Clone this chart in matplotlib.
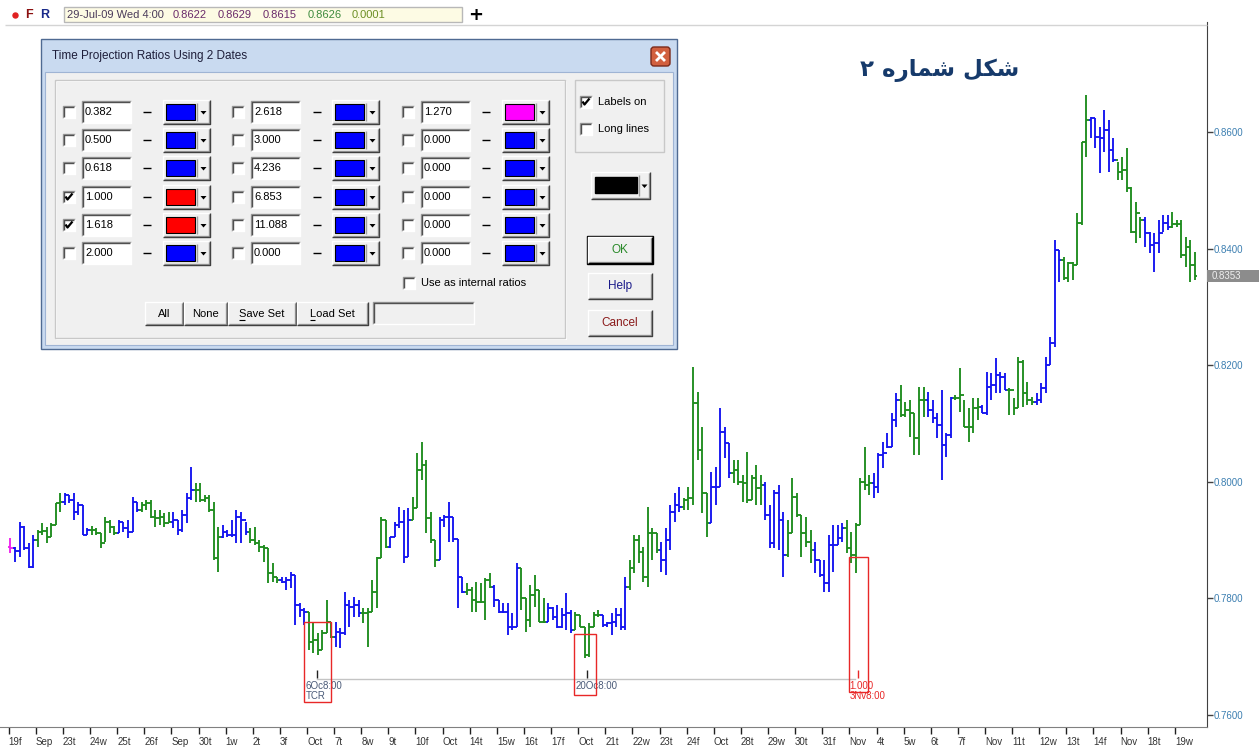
import matplotlib
matplotlib.use("Agg")
import matplotlib.pyplot as plt
import matplotlib.transforms as mtransforms
from matplotlib.patches import Rectangle, FancyBboxPatch, Polygon
from matplotlib import font_manager
import numpy as np

# ---------------- data (4-hour OHLC bars) ----------------
opens = [
 .7888,.7886,.7881,.7922,.7886,.7854,.7900,.7914,.7916,.7905,
 .7926,.7964,.7965,.7977,.7969,.7948,.7960,.7909,.7917,.7917,
 .7912,.7895,.7931,.7922,.7912,.7931,.7921,.7914,.7965,.7952,
 .7960,.7964,.7940,.7938,.7940,.7929,.7931,.7934,.7917,.7943,
 .7972,.7986,.7986,.7969,.7972,.7952,.7869,.7905,.7914,.7909,
 .7909,.7940,.7934,.7914,.7900,.7895,.7888,.7886,.7844,.7837,
 .7832,.7828,.7832,.7840,.7789,.7780,.7777,.7725,.7729,.7712,
 .7741,.7760,.7734,.7742,.7741,.7789,.7785,.7789,.7775,.7775,
 .7777,.7811,.7869,.7934,.7888,.7905,.7926,.7931,.7871,.7934,
 .7955,.8020,.8029,.7938,.7900,.7866,.7934,.7940,.7940,.7902,
 .7837,.7811,.7814,.7797,.7794,.7794,.7832,.7820,.7797,.7777,
 .7777,.7751,.7751,.7852,.7801,.7763,.7806,.7814,.7760,.7760,
 .7784,.7768,.7751,.7772,.7775,.7746,.7772,.7751,.7703,.7751,
 .7772,.7772,.7754,.7758,.7760,.7772,.7751,.7820,.7852,.7900,
 .7880,.7837,.7912,.7912,.7883,.7866,.7900,.7948,.7960,.7957,
 .7969,.7972,.8135,.8054,.7981,.7929,.7991,.7991,.8085,.8066,
 .8015,.8020,.8000,.7998,.7969,.8006,.7989,.7994,.7943,.7895,
 .7981,.7934,.7874,.7912,.7974,.7943,.7912,.7897,.7883,.7866,
 .7840,.7826,.7892,.7892,.7904,.7921,.7886,.7874,.7926,.8000,
 .7994,.7998,.7991,.8046,.8049,.8060,.8106,.8140,.8115,.8123,
 .8118,.8075,.8140,.8140,.8123,.8109,.8097,.8063,.8080,.8144,
 .8144,.8149,.8094,.8094,.8127,.8128,.8118,.8163,.8166,.8183,
 .8180,.8157,.8157,.8127,.8205,.8152,.8140,.8137,.8140,.8161,
 .8200,.8238,.8397,.8380,.8349,.8375,.8372,.8444,.8583,.8620,
 .8624,.8591,.8590,.8603,.8569,.8552,.8531,.8535,.8504,.8428,
 .8461,.8449,.8427,.8406,.8409,.8427,.8444,.8437,.8442,.8442,
 .8389,.8403,.8372]
highs = [
 .7904,.7888,.7931,.7924,.7895,.7909,.7917,.7929,.7922,.7929,
 .7964,.7981,.7981,.7977,.7981,.7965,.7960,.7921,.7924,.7921,
 .7912,.7940,.7934,.7924,.7934,.7931,.7934,.7974,.7965,.7965,
 .7969,.7969,.7952,.7952,.7946,.7948,.7948,.7934,.7952,.7981,
 .8025,.7998,.7998,.7977,.7977,.7965,.7922,.7926,.7917,.7934,
 .7952,.7948,.7931,.7921,.7922,.7900,.7892,.7886,.7861,.7837,
 .7837,.7837,.7845,.7840,.7792,.7784,.7777,.7760,.7741,.7746,
 .7797,.7760,.7760,.7749,.7811,.7797,.7802,.7797,.7784,.7784,
 .7832,.7871,.7940,.7934,.7905,.7931,.7957,.7952,.7955,.7974,
 .8049,.8068,.8037,.7948,.7900,.7940,.7943,.7965,.7940,.7902,
 .7837,.7826,.7820,.7828,.7826,.7835,.7844,.7823,.7797,.7792,
 .7792,.7775,.7861,.7852,.7801,.7823,.7840,.7814,.7801,.7792,
 .7785,.7789,.7784,.7809,.7780,.7777,.7772,.7751,.7758,.7777,
 .7780,.7772,.7760,.7775,.7784,.7784,.7837,.7866,.7909,.7909,
 .7888,.7957,.7921,.7912,.7897,.7921,.7960,.7981,.7991,.7972,
 .7991,.8197,.8154,.8094,.7981,.8017,.8025,.8127,.8094,.8066,
 .8037,.8037,.8012,.8051,.8012,.8029,.8012,.8000,.7960,.7986,
 .7994,.7948,.7934,.8006,.7981,.7943,.7940,.7917,.7897,.7866,
 .7866,.7909,.7926,.7926,.7929,.7934,.7914,.7929,.8006,.8060,
 .8012,.8015,.8049,.8068,.8084,.8118,.8152,.8166,.8137,.8140,
 .8118,.8163,.8163,.8154,.8140,.8118,.8157,.8084,.8145,.8149,
 .8195,.8140,.8127,.8144,.8144,.8132,.8188,.8187,.8212,.8188,
 .8187,.8161,.8144,.8214,.8209,.8171,.8145,.8152,.8169,.8214,
 .8248,.8415,.8397,.8385,.8377,.8377,.8461,.8583,.8663,.8625,
 .8624,.8608,.8638,.8620,.8590,.8548,.8557,.8572,.8505,.8480,
 .8454,.8454,.8428,.8427,.8449,.8457,.8457,.8463,.8449,.8449,
 .8420,.8415,.8394]
lows = [
 .7878,.7862,.7871,.7883,.7852,.7852,.7888,.7909,.7895,.7905,
 .7926,.7948,.7960,.7964,.7934,.7943,.7909,.7909,.7909,.7909,
 .7886,.7897,.7912,.7909,.7912,.7914,.7904,.7914,.7948,.7948,
 .7952,.7938,.7922,.7926,.7922,.7931,.7921,.7909,.7914,.7930,
 .7969,.7965,.7965,.7965,.7948,.7866,.7845,.7904,.7905,.7905,
 .7895,.7895,.7909,.7895,.7892,.7880,.7862,.7826,.7828,.7826,
 .7826,.7814,.7818,.7754,.7768,.7754,.7712,.7706,.7703,.7712,
 .7741,.7732,.7717,.7715,.7737,.7751,.7768,.7768,.7758,.7717,
 .7777,.7784,.7869,.7886,.7886,.7905,.7921,.7861,.7871,.7934,
 .7955,.8003,.7912,.7895,.7854,.7866,.7922,.7897,.7897,.7784,
 .7809,.7806,.7777,.7777,.7792,.7763,.7818,.7785,.7775,.7775,
 .7737,.7746,.7751,.7780,.7742,.7751,.7785,.7760,.7758,.7760,
 .7763,.7749,.7749,.7746,.7741,.7746,.7751,.7698,.7699,.7751,
 .7768,.7751,.7751,.7737,.7751,.7746,.7746,.7814,.7844,.7861,
 .7828,.7820,.7866,.7878,.7845,.7840,.7883,.7931,.7948,.7952,
 .7952,.7960,.8037,.7946,.7905,.7929,.7960,.7991,.8041,.8006,
 .7998,.7994,.7965,.7964,.7969,.7960,.7960,.7934,.7886,.7886,
 .7883,.7837,.7871,.7912,.7940,.7871,.7888,.7861,.7844,.7837,
 .7811,.7811,.7845,.7892,.7897,.7878,.7861,.7844,.7926,.7986,
 .7977,.7972,.7981,.8024,.8058,.8060,.8094,.8111,.8111,.8077,
 .8046,.8046,.8111,.8111,.8101,.8075,.8003,.8042,.8075,.8140,
 .8120,.8094,.8068,.8084,.8106,.8118,.8115,.8140,.8152,.8152,
 .8157,.8115,.8115,.8127,.8128,.8132,.8132,.8132,.8135,.8152,
 .8200,.8231,.8343,.8346,.8343,.8346,.8372,.8440,.8557,.8590,
 .8572,.8530,.8566,.8531,.8548,.8518,.8518,.8497,.8427,.8409,
 .8418,.8403,.8392,.8360,.8392,.8428,.8432,.8435,.8437,.8384,
 .8368,.8343,.8346]
closes = [
 .7886,.7881,.7922,.7886,.7854,.7900,.7914,.7916,.7905,.7926,
 .7964,.7965,.7977,.7969,.7948,.7960,.7909,.7917,.7917,.7912,
 .7895,.7931,.7922,.7912,.7931,.7921,.7914,.7965,.7952,.7960,
 .7964,.7940,.7938,.7940,.7929,.7931,.7934,.7917,.7943,.7972,
 .7986,.7986,.7969,.7972,.7952,.7869,.7905,.7914,.7909,.7909,
 .7940,.7934,.7914,.7900,.7895,.7888,.7886,.7844,.7837,.7832,
 .7828,.7832,.7840,.7789,.7780,.7777,.7725,.7729,.7712,.7741,
 .7760,.7734,.7742,.7741,.7789,.7785,.7789,.7775,.7775,.7777,
 .7811,.7869,.7934,.7888,.7905,.7926,.7931,.7871,.7934,.7955,
 .8020,.8029,.7938,.7900,.7866,.7934,.7940,.7940,.7902,.7837,
 .7811,.7814,.7797,.7794,.7794,.7832,.7820,.7797,.7777,.7777,
 .7751,.7751,.7852,.7801,.7763,.7806,.7814,.7760,.7760,.7784,
 .7768,.7751,.7772,.7775,.7746,.7772,.7751,.7703,.7751,.7772,
 .7772,.7754,.7758,.7760,.7772,.7751,.7820,.7852,.7900,.7880,
 .7837,.7912,.7912,.7883,.7866,.7900,.7948,.7960,.7957,.7969,
 .7972,.8135,.8054,.7981,.7929,.7991,.7991,.8085,.8066,.8015,
 .8020,.8000,.7998,.7969,.8006,.7989,.7994,.7943,.7895,.7981,
 .7934,.7874,.7912,.7974,.7943,.7912,.7897,.7883,.7866,.7840,
 .7826,.7892,.7892,.7904,.7921,.7886,.7874,.7926,.8000,.7994,
 .7998,.7991,.8046,.8049,.8060,.8106,.8140,.8115,.8123,.8118,
 .8075,.8140,.8140,.8123,.8109,.8097,.8063,.8080,.8144,.8144,
 .8149,.8094,.8094,.8127,.8128,.8118,.8163,.8166,.8183,.8180,
 .8157,.8157,.8127,.8205,.8152,.8140,.8137,.8140,.8161,.8200,
 .8238,.8397,.8380,.8349,.8375,.8372,.8444,.8583,.8620,.8624,
 .8591,.8590,.8603,.8569,.8552,.8531,.8535,.8504,.8428,.8461,
 .8449,.8427,.8406,.8409,.8427,.8444,.8437,.8442,.8442,.8389,
 .8403,.8372,.8353]
# day group of each bar: m = cursor bar, b = blue day, g = green day
bar_groups = ('m' 'bbbbb' 'gggggg' 'bbbbbb' 'gggggg' 'bbbbb' 'ggggggg' 'bbbbb'
              'gggggg' 'bbbbbb' 'ggggggg' 'bbbbbb' 'gggggg' 'bbbbbb' 'gggggg'
              'bbbbb' 'gggggg' 'bbbbbb' 'gggggg' 'bbbbbb' 'gggggg' 'bbbbbb'
              'gggggg' 'bbbbbb' 'ggggggg' 'bbbbb' 'gggggg' 'bbbbb' 'ggggggg'
              'bbbbb' 'gggggg' 'bbbbbbb' 'gggggg' 'bbbbbb' 'gggggg' 'bbbbbb'
              'gggggg' 'bbbbbb' 'gggggg' 'bbbbbb' 'gggggg' 'bbbbbb' 'gggggg'
              'bbbbbb' 'gggggg')
day_labels = ['19f', 'Sep', '23t', '24w', '25t', '26f', 'Sep', '30t', '1w', '2t',
              '3f', 'Oct', '7t', '8w', '9t', '10f', 'Oct', '14t', '15w', '16t',
              '17f', 'Oct', '21t', '22w', '23t', '24f', 'Oct', '28t', '29w', '30t',
              '31f', 'Nov', '4t', '5w', '6t', '7f', 'Nov', '11t', '12w', '13t',
              '14f', 'Nov', '18t', '19w']
price_ticks = [0.7600, 0.7800, 0.8000, 0.8200, 0.8400, 0.8600]
last_price = 0.8353

ratios_col1 = ['0.382', '0.500', '0.618', '1.000', '1.618', '2.000']
ratios_col2 = ['2.618', '3.000', '4.236', '6.853', '11.088', '0.000']
ratios_col3 = ['1.270', '0.000', '0.000', '0.000', '0.000', '0.000']
checked_col1 = [False, False, False, True, True, False]
colors_col1 = ['#0000ff', '#0000ff', '#0000ff', '#ff0000', '#ff0000', '#0000ff']
colors_col2 = ['#0000ff'] * 6
colors_col3 = ['#ff00ff', '#0000ff', '#0000ff', '#0000ff', '#0000ff', '#0000ff']

# ---------------- fonts ----------------
avail = {f.name for f in font_manager.fontManager.ttflist}
SANS = 'Liberation Sans'
UI = 'Liberation Sans Narrow' if 'Liberation Sans Narrow' in avail else SANS
plt.rcParams['font.family'] = [SANS, 'DejaVu Sans']

W, H = 1259, 753
fig = plt.figure(figsize=(W / 100, H / 100), dpi=100)
fig.patch.set_facecolor('white')

# ---------------- price chart ----------------
top_px, bot_px, right_px = 22, 727, 1207
ax = fig.add_axes([0, (H - bot_px) / H, right_px / W, (bot_px - top_px) / H])
ax.set_facecolor('white')
bar_step, first_px = 4.52, 10.5
ax.set_xlim(-first_px / bar_step, (right_px - first_px) / bar_step)
ax.set_ylim(0.75796, 0.87887)

palette = {'b': '#1414f0', 'g': '#1f8c1f', 'm': '#ee22ee'}
cols = [palette[c] for c in bar_groups]
x = np.arange(len(closes))
ax.vlines(x, lows, highs, colors=cols, linewidth=1.35)
ax.hlines(opens, x - 0.5, x, colors=cols, linewidth=1.35)
ax.hlines(closes, x, x + 0.5, colors=cols, linewidth=1.35)

# x axis: one tick per trading day (6 bars per day)
day_pos = np.arange(len(day_labels)) * 6 - 0.4
ax.set_xticks(day_pos)
ax.set_xticklabels(day_labels, ha='left', fontsize=7, color='#333333')
shift = mtransforms.ScaledTranslation(2 / 100, 0, fig.dpi_scale_trans)
for lbl in ax.get_xticklabels():
    lbl.set_transform(lbl.get_transform() + shift)
ax.tick_params(axis='x', direction='out', length=5, width=1, color='#202020', pad=2)

# y axis on the right
ax.yaxis.tick_right()
ax.set_yticks(price_ticks)
ax.set_yticklabels([f'{v:.4f}' for v in price_ticks])
ax.tick_params(axis='y', direction='out', length=4, width=1, color='#404040',
               labelcolor='#3c7fb1', labelsize=7, pad=1)
for s in ('left', 'top'):
    ax.spines[s].set_visible(False)
ax.spines['right'].set_color('#404040')
ax.spines['bottom'].set_color('#808080')

# last price marker
blend = mtransforms.blended_transform_factory(ax.transAxes, ax.transData)
ax.add_patch(Rectangle((1.0, last_price - 0.00105), 52 / 1207, 0.0021, transform=blend,
                       facecolor='#8c8c8c', edgecolor='none', clip_on=False, zorder=5))
ax.text(1.0 + 5 / 1207, last_price, f'{last_price:.4f}', transform=blend, va='center',
        ha='left', fontsize=7, color='#eeeeee', clip_on=False, zorder=6)

# time projection markers
red = '#e82828'
for (x0, x1, y0, y1) in [(64.9, 70.9, 0.7622, 0.7760), (124.7, 129.6, 0.7634, 0.7739),
                         (185.5, 189.7, 0.7640, 0.7871)]:
    ax.add_patch(Rectangle((x0, y0), x1 - x0, y1 - y0, fill=False, edgecolor=red,
                           linewidth=1.0, zorder=4))
ax.plot([67.8, 186.8], [0.7662, 0.7662], color='#c4c4c4', linewidth=1, zorder=3)
ax.vlines([67.8, 127.5], 0.7664, 0.7677, colors='#222222', linewidth=1, zorder=4)
ax.vlines([187.5], 0.7664, 0.7677, colors=red, linewidth=1, zorder=4)
ax.text(65.3, 0.7658, '6Oc8:00', fontsize=7, color='#4a5a78', va='top', ha='left')
ax.text(65.3, 0.7641, 'TCR', fontsize=7, color='#4a5a78', va='top', ha='left')
ax.text(125.0, 0.7658, '20Oc8:00', fontsize=7, color='#4a5a78', va='top', ha='left')
ax.text(185.6, 0.7658, '1.000', fontsize=7, color=red, va='top', ha='left')
ax.text(185.6, 0.7641, '3Nv8:00', fontsize=7, color=red, va='top', ha='left')

# ---------------- overlay (pixel coordinates) ----------------
ov = fig.add_axes([0, 0, 1, 1], zorder=10)
ov.set_xlim(0, W)
ov.set_ylim(H, 0)
ov.axis('off')


def box(x0, y0, x1, y1, fc='none', ec='none', lw=1.0, z=2):
    ov.add_patch(Rectangle((x0, y0), x1 - x0, y1 - y0, facecolor=fc, edgecolor=ec,
                           linewidth=lw, zorder=z))


def seg(xs, ys, c, lw=1.0, z=4):
    ov.plot(xs, ys, color=c, linewidth=lw, solid_capstyle='butt', zorder=z)


def sunken(x0, y0, x1, y1, fc='white'):
    box(x0, y0, x1, y1, fc=fc)
    seg([x0, x0, x1], [y1, y0, y0], '#9a9a9a')
    seg([x0 + 1, x0 + 1, x1 - 1], [y1 - 1, y0 + 1, y0 + 1], '#505050')
    seg([x0, x1, x1], [y1, y1, y0], '#ffffff')


def raised(x0, y0, x1, y1, fc='#f0f0f0', dark='#404040'):
    box(x0, y0, x1, y1, fc=fc)
    seg([x0, x0, x1], [y1, y0, y0], '#ffffff')
    seg([x0 + 1, x1 - 1, x1 - 1], [y1 - 1, y1 - 1, y0 + 1], '#a0a0a0')
    seg([x0, x1, x1], [y1, y1, y0], dark)


def checkbox(cx, cy, checked=False):
    sunken(cx - 6, cy - 6, cx + 6, cy + 6)
    if checked:
        seg([cx - 3.5, cx - 1.5, cx + 3.5], [cy - 0.5, cy + 2.5, cy - 3.5], '#000000', lw=1.6, z=5)


def arrow(cx, cy):
    ov.add_patch(Polygon([[cx - 3, cy - 1.5], [cx + 3, cy - 1.5], [cx, cy + 2]],
                         closed=True, facecolor='black', edgecolor='none', zorder=5))


def color_button(x0, x1, cy, color):
    raised(x0, cy - 12, x1, cy + 12)
    box(x0 + 3, cy - 8, x1 - 15, cy + 8, fc=color, ec='#000000', lw=0.8, z=3)
    seg([x1 - 13, x1 - 13], [cy - 9, cy + 9], '#a0a0a0')
    arrow(x1 - 6.5, cy + 0.5)


def label(x, y, s, size=8, color='#000000', ha='left', family=UI, **kw):
    ov.text(x, y, s, fontsize=size, color=color, ha=ha, va='center', family=family,
            zorder=6, **kw)


# header strip
seg([5, 1207], [24.5, 24.5], '#d4d4d4', lw=1)
ov.plot([15], [15], 'o', color='#e02020', markersize=3.6, zorder=5)
label(29, 15, 'F', size=9, color='#8b1010', ha='center', family=SANS, fontweight='bold')
label(45, 15, 'R', size=9, color='#1a2a8a', ha='center', family=SANS, fontweight='bold')
box(64, 7, 462, 22, fc='#fdfbe4', ec='#b8b8b8', lw=1)
label(67, 15, '29-Jul-09 Wed 4:00', size=8, color='#4a3a5a', family=SANS)
label(173, 15, '0.8622', size=8, color='#6a2a6a', family=SANS)
label(218, 15, '0.8629', size=8, color='#6a2a6a', family=SANS)
label(263, 15, '0.8615', size=8, color='#6a2a6a', family=SANS)
label(308, 15, '0.8626', size=8, color='#3d8b3d', family=SANS)
label(352, 15, '0.0001', size=8, color='#6b8e23', family=SANS)
label(476, 15, '+', size=13, color='#000000', ha='center', family='DejaVu Sans',
      fontweight='bold')

# Persian caption (Arabic presentation forms, visual order)
caption = '\u06F2 \uFEE9\uFEAD\uFE8E\uFEE4\uFEB7 \uFEDE\uFB91\uFEB7'
ov.text(940, 70, caption, fontsize=16.5, fontweight='bold', color='#163a6b',
        ha='center', va='center', family=['DejaVu Sans'], zorder=6)

# dialog window
box(41, 39, 677, 349, fc='#c9daf0', ec='#4f6a92', lw=1, z=1)
box(45, 72, 673, 345, fc='#f0f0f0', ec='#9fb4d4', lw=0.8, z=1)
label(52, 56, 'Time Projection Ratios Using 2 Dates', size=8.5, color='#1e1e3a', family=SANS)
ov.add_patch(FancyBboxPatch((651, 47), 19, 19, boxstyle='round,pad=0,rounding_size=3',
                            facecolor='#d2603f', edgecolor='#7a2a1a', linewidth=1, zorder=3))
seg([656, 665], [52, 61], 'white', lw=2, z=5)
seg([665, 656], [52, 61], 'white', lw=2, z=5)

# group boxes
box(55, 80, 565, 338, ec='#c8c8c8', lw=1)
box(56, 81, 566, 339, ec='#ffffff', lw=0.8, z=1.5)
box(575, 80, 664, 152, ec='#c8c8c8', lw=1)

rows_y = [112, 140, 168, 197, 225, 253]
columns = [(69, 82, 131, 147, 163, 210, ratios_col1, checked_col1, colors_col1),
           (238, 251, 300, 317, 332, 379, ratios_col2, [False] * 6, colors_col2),
           (408, 421, 470, 486, 502, 549, ratios_col3, [False] * 6, colors_col3)]
for (cbx, tx0, tx1, dx, bx0, bx1, vals, chk, swatches) in columns:
    for cy, v, c, sw in zip(rows_y, vals, chk, swatches):
        checkbox(cbx, cy, c)
        sunken(tx0, cy - 11, tx1, cy + 11)
        label(tx0 + 3, cy, v, size=8)
        seg([dx - 4, dx + 4], [cy, cy], '#000000', lw=1)
        color_button(bx0, bx1, cy, sw)

checkbox(409, 283)
label(421, 283, 'Use as internal ratios', size=8)

for (x0, x1, t) in [(145, 183, 'All'), (184, 227, 'None'), (228, 296, 'Save Set'),
                    (297, 368, 'Load Set')]:
    raised(x0, 302, x1, 325)
    label((x0 + x1) / 2, 313.5, t, size=8, ha='center')
seg([239.5, 245.5], [319.5, 319.5], '#000000', lw=0.8, z=7)
seg([310.5, 315.5], [319.5, 319.5], '#000000', lw=0.8, z=7)
sunken(373, 302, 474, 324, fc='#f0f0f0')

checkbox(586, 102, True)
label(598, 102, 'Labels on', size=8)
checkbox(586, 129)
label(598, 129, 'Long lines', size=8)

raised(591, 172, 650, 199)
box(595, 177, 637, 193, fc='#000000', ec='#000000', z=3)
seg([639, 639], [175, 196], '#a0a0a0')
arrow(644.5, 186)

raised(588, 237, 652, 263, dark='#000000')
box(587, 236, 653, 264, ec='#000000', lw=1, z=3)
label(620, 250, 'OK', size=8.5, ha='center', color='#2a8a2a')
raised(588, 273, 652, 299)
label(620, 286, 'Help', size=8.5, ha='center', color='#1a1a8a')
raised(588, 310, 652, 336)
label(620, 323, 'Cancel', size=8.5, ha='center', color='#8a1a1a')

fig.savefig('out.png', dpi=100, facecolor='white')
